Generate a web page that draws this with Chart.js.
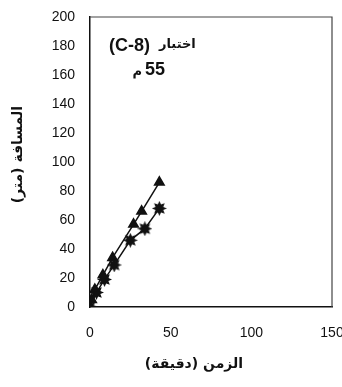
<!DOCTYPE html>
<html>
<head>
<meta charset="utf-8">
<script src="https://cdn.jsdelivr.net/npm/chart.js@4.4.0/dist/chart.umd.min.js"></script>
<style>
    html, body { margin: 0; padding: 0; background: #fff; }
    #wrap { width: 342px; height: 387px; }
</style>
</head>
<body>
<div id="wrap"><canvas id="chart"></canvas></div>
<script>
const timeTri = [0, 1, 3, 8, 14, 27, 32, 43];
const distTri = [0, 5, 12, 22, 34, 57, 66, 86];
const timeStar = [0, 4, 9, 15, 25, 34, 43];
const distStar = [0, 10, 19, 29, 46, 54, 68];
const xTicks = [0, 50, 100, 150];
const yTicks = [0, 20, 40, 60, 80, 100, 120, 140, 160, 180, 200];

const FONT = "'Liberation Sans', Arial, 'DejaVu Sans', sans-serif";
const RLM = "\u200F";
const NBSP = "\u00A0";

function toPoints(xs, ys) {
    return xs.map((x, i) => ({ x: x, y: ys[i] }));
}

// spiky filled marker like the scanned stars
function starMarker() {
    const c = document.createElement("canvas");
    c.width = 15;
    c.height = 15;
    const g = c.getContext("2d");
    g.fillStyle = "#111";
    g.beginPath();
    for (let i = 0; i < 16; i++) {
        const r = i % 2 === 0 ? 7.5 : 4.2;
        const a = i * Math.PI / 8;
        g.lineTo(7.5 + r * Math.cos(a), 7.5 + r * Math.sin(a));
    }
    g.closePath();
    g.fill();
    return c;
}

const frame = {
    id: "frame",
    afterDraw(chart) {
        const { ctx, chartArea: a } = chart;
        ctx.save();
        ctx.strokeStyle = "#444";
        ctx.lineWidth = 1.2;
        ctx.beginPath();
        ctx.moveTo(a.left, a.top);
        ctx.lineTo(a.right, a.top);
        ctx.lineTo(a.right, a.bottom);
        ctx.stroke();

        ctx.fillStyle = "#111";
        ctx.textBaseline = "middle";
        ctx.font = "bold 18px " + FONT;
        ctx.textAlign = "left";
        ctx.fillText("(C-8)", a.left + 19, a.top + 29);
        ctx.fillText("55", a.left + 55, a.top + 53);
        ctx.font = "bold 13px 'DejaVu Sans', sans-serif";
        ctx.fillText("اختبار", a.left + 69, a.top + 28);
        ctx.textAlign = "right";
        ctx.fillText("م", a.left + 52, a.top + 55);
        ctx.restore();
    }
};

new Chart(document.querySelector("#chart"), {
    type: "line",
    data: {
        datasets: [{
            data: toPoints(timeTri, distTri),
            borderColor: "#111",
            backgroundColor: "#111",
            borderWidth: 1.5,
            pointStyle: "triangle",
            pointRadius: 5.5,
        }, {
            data: toPoints(timeStar, distStar),
            borderColor: "#111",
            backgroundColor: "#111",
            borderWidth: 1.5,
            pointStyle: starMarker(),
        }],
    },
    options: {
        responsive: true,
        maintainAspectRatio: false,
        animation: false,
        layout: { padding: { top: 17, right: 10, left: 0, bottom: 0 } },
        plugins: {
            legend: { display: false },
            tooltip: { enabled: false },
        },
        scales: {
            x: {
                type: "linear",
                min: 0,
                max: 150,
                afterBuildTicks: s => { s.ticks = xTicks.map(v => ({ value: v })); },
                afterFit: s => { s.height = 80; s.paddingRight = 0; s.paddingLeft = 0; },
                grid: { display: false, drawTicks: false },
                border: { display: true, color: "#111", width: 1.5 },
                ticks: { color: "#111", font: { family: FONT, size: 14 }, padding: 18 },
                title: {
                    display: true,
                    // trailing spaces nudge the title a little left of centre
                    text: "الزمن (دقيقة)" + RLM + NBSP.repeat(7),
                    color: "#111",
                    font: { family: "'DejaVu Sans', sans-serif", size: 14, weight: "bold" },
                    padding: { top: 0, bottom: 14 },
                },
            },
            y: {
                min: 0,
                max: 200,
                afterBuildTicks: s => { s.ticks = yTicks.map(v => ({ value: v })); },
                afterFit: s => { s.width = 90; s.paddingTop = 0; s.paddingBottom = 0; },
                grid: { display: false, drawTicks: false },
                border: { display: true, color: "#111", width: 1.5 },
                ticks: { color: "#111", font: { family: FONT, size: 14 }, padding: 15 },
                title: {
                    display: true,
                    text: NBSP.repeat(3) + "المسافة (متر)" + RLM,
                    color: "#111",
                    font: { family: "'DejaVu Sans', sans-serif", size: 14, weight: "bold" },
                    padding: { top: 10, bottom: 10 },
                },
            },
        },
    },
    plugins: [frame],
});
</script>
</body>
</html>
